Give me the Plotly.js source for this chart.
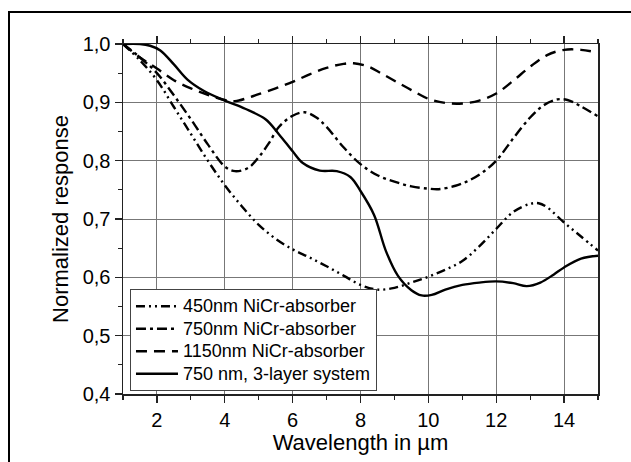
<!DOCTYPE html>
<html>
<head>
<meta charset="utf-8">
<script src="https://cdn.plot.ly/plotly-3.0.1.min.js"></script>
<style>
html,body{margin:0;padding:0;background:#fff;overflow:hidden;width:631px;height:462px;}
#chart{position:absolute;left:0;top:0;width:631px;height:462px;}
#frame{position:absolute;left:8px;top:11px;width:700px;height:600px;border:2px solid #000;pointer-events:none;z-index:10;}
</style>
</head>
<body>
<div id="chart"></div>
<div id="frame"></div>
<script>
// Series names
const names = ["450nm NiCr-absorber", "750nm NiCr-absorber", "1150nm NiCr-absorber", "750 nm, 3-layer system"];

// 450nm NiCr-absorber (dash-dot-dot)
const x450 = [1, 1.5, 2, 2.5, 3, 3.5, 4, 4.5, 5, 5.5, 6, 6.5, 7, 7.5, 8, 8.5, 9, 9.5, 10, 10.5, 11, 11.5, 12, 12.5, 13, 13.25, 13.5, 14, 14.5, 15];
const y450 = [1.0, 0.972, 0.938, 0.892, 0.846, 0.800, 0.758, 0.722, 0.690, 0.666, 0.648, 0.634, 0.619, 0.603, 0.587, 0.579, 0.582, 0.591, 0.601, 0.613, 0.628, 0.653, 0.683, 0.712, 0.726, 0.727, 0.720, 0.694, 0.670, 0.646];

// 750nm NiCr-absorber (dash-dot)
const x750 = [1, 1.5, 2, 2.5, 3, 3.5, 4, 4.3, 4.7, 5, 5.3, 5.6, 6, 6.35, 6.7, 7, 7.5, 8, 8.5, 9, 9.5, 10, 10.3, 10.8, 11.2, 11.6, 12, 12.5, 13, 13.4, 13.8, 14.1, 14.5, 15];
const y750 = [1.0, 0.977, 0.950, 0.912, 0.871, 0.828, 0.790, 0.782, 0.788, 0.806, 0.830, 0.858, 0.877, 0.883, 0.874, 0.858, 0.823, 0.794, 0.775, 0.764, 0.756, 0.752, 0.751, 0.757, 0.766, 0.780, 0.800, 0.838, 0.874, 0.895, 0.905, 0.904, 0.893, 0.876];

// 1150nm NiCr-absorber (dashed)
const x1150 = [1, 1.5, 2, 2.5, 3, 3.5, 4, 4.3, 4.7, 5, 5.5, 6, 6.5, 7, 7.5, 7.8, 8.2, 8.6, 9, 9.5, 10, 10.5, 11, 11.5, 12, 12.5, 13, 13.5, 14, 14.5, 15];
const y1150 = [1.0, 0.977, 0.958, 0.938, 0.924, 0.913, 0.904, 0.902, 0.908, 0.914, 0.924, 0.935, 0.948, 0.959, 0.966, 0.967, 0.962, 0.950, 0.937, 0.921, 0.906, 0.899, 0.898, 0.903, 0.915, 0.937, 0.961, 0.981, 0.990, 0.990, 0.985];

// 750 nm, 3-layer system (solid)
const x3l = [1, 1.5, 1.8, 2.1, 2.5, 2.9, 3.4, 4, 4.6, 5.2, 5.6, 6, 6.3, 6.8, 7.3, 7.7, 8, 8.4, 8.75, 9.1, 9.5, 9.8, 10.1, 10.5, 11, 11.5, 12, 12.5, 12.9, 13.3, 13.7, 14, 14.5, 15];
const y3l = [1.0, 1.0, 0.997, 0.989, 0.965, 0.939, 0.919, 0.903, 0.889, 0.871, 0.845, 0.816, 0.796, 0.783, 0.782, 0.772, 0.748, 0.707, 0.645, 0.603, 0.578, 0.569, 0.570, 0.579, 0.587, 0.591, 0.593, 0.590, 0.585, 0.591, 0.605, 0.617, 0.632, 0.637];

// Tick labels
const xTicks = [2, 4, 6, 8, 10, 12, 14];
const yTicks = [0.4, 0.5, 0.6, 0.7, 0.8, 0.9, 1.0];

const dashes = ["9px,4px,2px,4px,2px,4px", "10px,4px,3px,4px", "11px,7px", "solid"];
const xs = [x450, x750, x1150, x3l];
const ys = [y450, y750, y1150, y3l];

const traces = names.map((n, i) => ({
  x: xs[i], y: ys[i], name: '<span style="font-size:18px">' + n + '</span>',
  type: "scatter", mode: "lines",
  line: {color: "#000", width: 2.4, dash: dashes[i], shape: "spline", smoothing: 1}
}));

const font = "Liberation Sans, Arial, sans-serif";
const layout = {
  width: 631, height: 462,
  margin: {l: 123, r: 33, t: 44, b: 68},
  paper_bgcolor: "#fff", plot_bgcolor: "#fff",
  separators: ",.",
  showlegend: true,
  font: {family: font, color: "#000"},
  xaxis: {
    range: [1, 15], tickvals: xTicks, ticktext: xTicks.map(String),
    showgrid: true, gridcolor: "#777", gridwidth: 1,
    showline: true, linecolor: "#222", linewidth: 1.5, mirror: "ticks",
    ticks: "outside", ticklen: 7, tickwidth: 1.3, tickcolor: "#222",
    minor: {dtick: 1, tick0: 1, ticks: "outside", ticklen: 4, tickwidth: 1.1, tickcolor: "#222", showgrid: false},
    tickfont: {size: 20, family: font},
    title: {text: "Wavelength in µm", font: {size: 22, family: font}, standoff: 5},
    zeroline: false
  },
  yaxis: {
    range: [0.4, 1.0], tickvals: yTicks, tickformat: ".1f",
    showgrid: true, gridcolor: "#777", gridwidth: 1,
    showline: true, linecolor: "#222", linewidth: 1.5, mirror: true,
    ticks: "outside", ticklen: 7, tickwidth: 1.3, tickcolor: "#222",
    minor: {dtick: 0.05, tick0: 0.4, ticks: "outside", ticklen: 4, tickwidth: 1.1, tickcolor: "#222", showgrid: false},
    tickfont: {size: 20, family: font},
    title: {text: "Normalized response", font: {size: 22, family: font}, standoff: 8},
    zeroline: false
  },
  legend: {
    x: 0.0147, y: 0.0086, xanchor: "left", yanchor: "bottom",
    bgcolor: "#fff", bordercolor: "#444", borderwidth: 1,
    font: {size: 15, family: font}, itemwidth: 42,
    tracegroupgap: 0
  }
};

Plotly.newPlot("chart", traces, layout, {displayModeBar: false, staticPlot: true});
</script>
</body>
</html>
